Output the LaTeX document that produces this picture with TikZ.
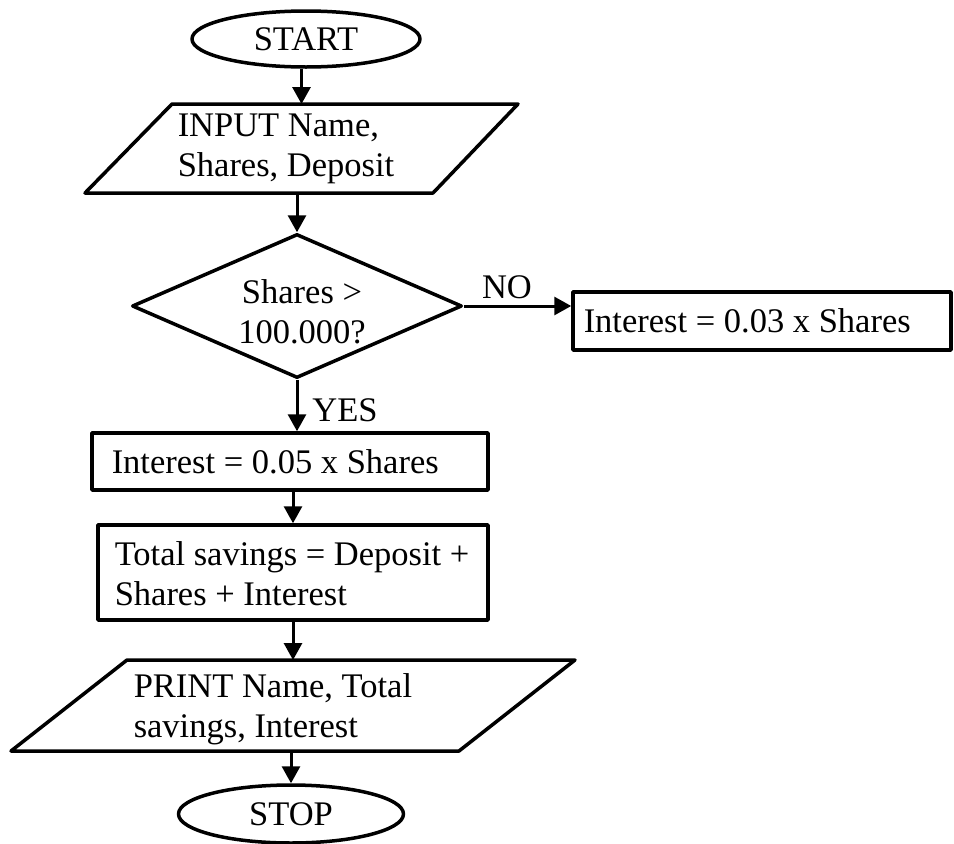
\documentclass[tikz,border=0pt]{standalone}
\usepackage{fontspec}
\setmainfont{Liberation Serif}
\usetikzlibrary{shapes.geometric,arrows.meta}
\begin{document}
\begin{tikzpicture}[x=1pt,y=-1pt, line width=3.5pt, line join=round,
  every node/.style={font=\fontsize{34.5}{40}\selectfont},
  term/.style={ellipse, draw, minimum width=228pt, minimum height=56pt, inner sep=0pt},
  proc/.style={rectangle, draw, inner sep=0pt},
  ghost/.style={rectangle, draw=none, inner sep=0pt, outer sep=0pt},
  decide/.style={diamond, draw, aspect=2.3, inner sep=0pt, minimum width=330pt, minimum height=144pt},
  arr/.style={line width=3pt, -{Triangle[length=17pt,width=18pt]}},
  lbl/.style={inner sep=0pt, align=left}]
\useasboundingbox[fill=white] (0,0) rectangle (954,844);

% terminals and boxes
\node[term] (start) at (306,39) {START};

\node[ghost, minimum width=433pt, minimum height=89pt] (input) at (301.5,148.5) {};
\draw (172,104) -- (518,104) -- (433,193) -- (85,193) -- cycle;
\node[lbl, anchor=west] (intext) at (176,148.5) {INPUT Name,\\Shares, Deposit};

\node[decide] (dia) at (297,306) {};
\node[lbl, align=center] (diatext) at (302,312) {Shares >\\100.000?};

\node[proc, minimum width=378pt, minimum height=58pt] (b03) at (762,321) {};
\node[lbl, anchor=west] (b03text) at (582,321) {Interest = 0.03 x Shares};

\node[proc, minimum width=396pt, minimum height=57pt] (b05) at (290,461.5) {};
\node[lbl, anchor=west] (b05text) at (110,461.5) {Interest = 0.05 x Shares};

\node[proc, minimum width=390pt, minimum height=95pt] (tot) at (293,572.5) {};
\node[lbl, anchor=west] (tottext) at (113,574) {Total savings = Deposit +\\Shares + Interest};

\node[ghost, minimum width=564pt, minimum height=91pt] (print) at (293,705.5) {};
\draw (127,660) -- (575,660) -- (459,751) -- (11,751) -- cycle;
\node[lbl, anchor=west] (prtext) at (132,709) {PRINT Name, Total\\savings, Interest};

\node[term, minimum width=225pt, minimum height=58pt] (stop) at (291,814) {STOP};

% labels
\node[lbl] (no) at (507,287) {NO};
\node[lbl] (yes) at (345,410) {YES};

% connectors
\draw[arr] (input.north |- start.south) -- (input.north);
\draw[arr] (dia.north |- input.south) -- (dia.north);
\draw[arr] (dia.east) -- (dia.east -| b03.west);
\draw[arr] (dia.south) -- (dia.south |- b05.north);
\draw[arr] (tot.north |- b05.south) -- (tot.north);
\draw[arr] (tot.south) -- (tot.south |- print.north);
\draw[arr] (stop.north |- print.south) -- (stop.north);
\end{tikzpicture}
\end{document}
